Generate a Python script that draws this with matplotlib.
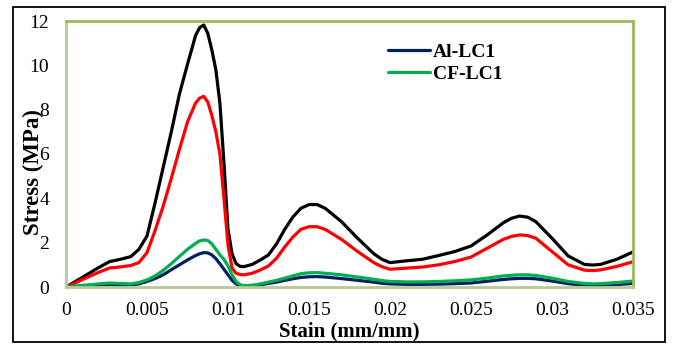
import matplotlib
matplotlib.use("Agg")
import matplotlib.pyplot as plt
from matplotlib.patches import Rectangle

# strain (mm/mm) sample points shared by all curves
strain = [0, 0.001, 0.002, 0.0027, 0.0033, 0.004, 0.0045, 0.005, 0.0055, 0.006,
          0.0065, 0.007, 0.0075, 0.008, 0.00825, 0.0085, 0.00875, 0.009, 0.00925, 0.0095,
          0.00975, 0.01, 0.01025, 0.0105, 0.01075, 0.011, 0.0115, 0.012, 0.0125, 0.013,
          0.0135, 0.014, 0.0145, 0.015, 0.0155, 0.016, 0.017, 0.018, 0.019, 0.0195,
          0.02, 0.021, 0.022, 0.023, 0.024, 0.025, 0.026, 0.027, 0.0275, 0.028,
          0.0285, 0.029, 0.03, 0.031, 0.032, 0.0325, 0.033, 0.034, 0.035]

# stress (MPa)
black_stress = [0, 0.43, 0.87, 1.15, 1.24, 1.37, 1.7, 2.3, 3.8, 5.4,
                7.0, 8.7, 10.05, 11.35, 11.7, 11.82, 11.45, 10.7, 9.8, 8.3,
                5.6, 2.6, 1.5, 1.05, 0.93, 0.92, 1.02, 1.22, 1.45, 1.95,
                2.6, 3.15, 3.55, 3.72, 3.72, 3.55, 2.95, 2.2, 1.5, 1.25,
                1.1, 1.18, 1.25, 1.42, 1.6, 1.85, 2.35, 2.9, 3.1, 3.2,
                3.15, 2.95, 2.2, 1.4, 1.02, 0.99, 1.02, 1.25, 1.58]
red_stress = [0, 0.33, 0.66, 0.86, 0.9, 0.97, 1.1, 1.55, 2.55, 3.65,
              4.9, 6.2, 7.45, 8.3, 8.52, 8.6, 8.35, 7.75, 7.0, 6.0,
              4.0, 1.9, 0.85, 0.62, 0.56, 0.55, 0.62, 0.77, 0.95, 1.3,
              1.8, 2.25, 2.6, 2.72, 2.72, 2.6, 2.15, 1.6, 1.1, 0.92,
              0.8, 0.85, 0.9, 1.0, 1.15, 1.35, 1.75, 2.15, 2.28, 2.35,
              2.32, 2.2, 1.6, 1.0, 0.76, 0.74, 0.77, 0.93, 1.14]
al_lc1 = [0, 0.04, 0.08, 0.1, 0.09, 0.09, 0.14, 0.25, 0.38, 0.55,
          0.78, 1.0, 1.22, 1.42, 1.5, 1.55, 1.54, 1.45, 1.28, 1.05,
          0.8, 0.55, 0.3, 0.14, 0.07, 0.04, 0.05, 0.1, 0.16, 0.22,
          0.3, 0.37, 0.43, 0.46, 0.47, 0.45, 0.38, 0.3, 0.22, 0.17,
          0.14, 0.12, 0.12, 0.13, 0.15, 0.18, 0.26, 0.34, 0.37, 0.39,
          0.39, 0.37, 0.27, 0.15, 0.08, 0.06, 0.07, 0.11, 0.16]
cf_lc1 = [0, 0.07, 0.14, 0.18, 0.16, 0.14, 0.2, 0.32, 0.5, 0.75,
          1.05, 1.38, 1.7, 1.97, 2.08, 2.12, 2.1, 1.95, 1.7, 1.45,
          1.25, 0.95, 0.55, 0.25, 0.1, 0.06, 0.08, 0.14, 0.22, 0.3,
          0.4, 0.5, 0.6, 0.64, 0.65, 0.62, 0.55, 0.45, 0.35, 0.29,
          0.25, 0.23, 0.23, 0.25, 0.28, 0.32, 0.4, 0.5, 0.53, 0.55,
          0.55, 0.52, 0.4, 0.25, 0.16, 0.14, 0.15, 0.2, 0.27]

x_ticks = [0, 0.005, 0.01, 0.015, 0.02, 0.025, 0.03, 0.035]
x_tick_labels = ["0", "0.005", "0.01", "0.015", "0.02", "0.025", "0.03", "0.035"]
y_ticks = [0, 2, 4, 6, 8, 10, 12]

plt.rcParams["font.family"] = ["Liberation Serif", "DejaVu Serif"]

W, H = 673, 345
fig = plt.figure(figsize=(W / 100, H / 100), dpi=100)
ax = fig.add_axes([66 / W, 1 - 287 / H, (633 - 66) / W, (287 - 21) / H])

lw = 2.3
line_kw = dict(linewidth=lw, solid_joinstyle="round", solid_capstyle="round")
ax.plot(strain, black_stress, color="black", **line_kw)
ax.plot(strain, red_stress, color="#FF0000", **line_kw)
ax.plot(strain, al_lc1, color="#002060", label="Al-LC1", **line_kw)
ax.plot(strain, cf_lc1, color="#00B050", label="CF-LC1", **line_kw)

ax.set_xlim(0, 0.035)
ax.set_ylim(0, 12)
ax.set_xticks(x_ticks)
ax.set_xticklabels(x_tick_labels)
ax.set_yticks(y_ticks)
ax.tick_params(axis="both", length=0, labelsize=14)
ax.tick_params(axis="x", pad=11)
ax.tick_params(axis="y", pad=12)

for side in ["top", "right"]:
    ax.spines[side].set_color("#9BBB59")
for side in ["left", "bottom"]:
    ax.spines[side].set_color("#B5C99A")
for spine in ax.spines.values():
    spine.set_linewidth(2)

fig.text(33 / W, 1 - 172 / H, "Stress (MPa)", rotation=90, ha="center", va="center",
         fontsize=16.5, fontweight="bold")
fig.text(349 / W, 1 - 331 / H, "Stain (mm/mm)", ha="center", va="center",
         fontsize=15, fontweight="bold")

ax.legend(loc="upper left", bbox_to_anchor=(388 / W, 1 - 43 / H),
          bbox_transform=fig.transFigure, frameon=False, borderpad=0,
          borderaxespad=0, handlelength=2.15, handletextpad=0.15,
          labelspacing=0.25, prop={"weight": "bold", "size": 14})

# outer chart border
fig.patches.append(Rectangle((13 / W, 1 - 342 / H), (665 - 13) / W, (342 - 7) / H,
                             transform=fig.transFigure, fill=False,
                             edgecolor="black", linewidth=1.3))

fig.savefig("out.png", dpi=100)
